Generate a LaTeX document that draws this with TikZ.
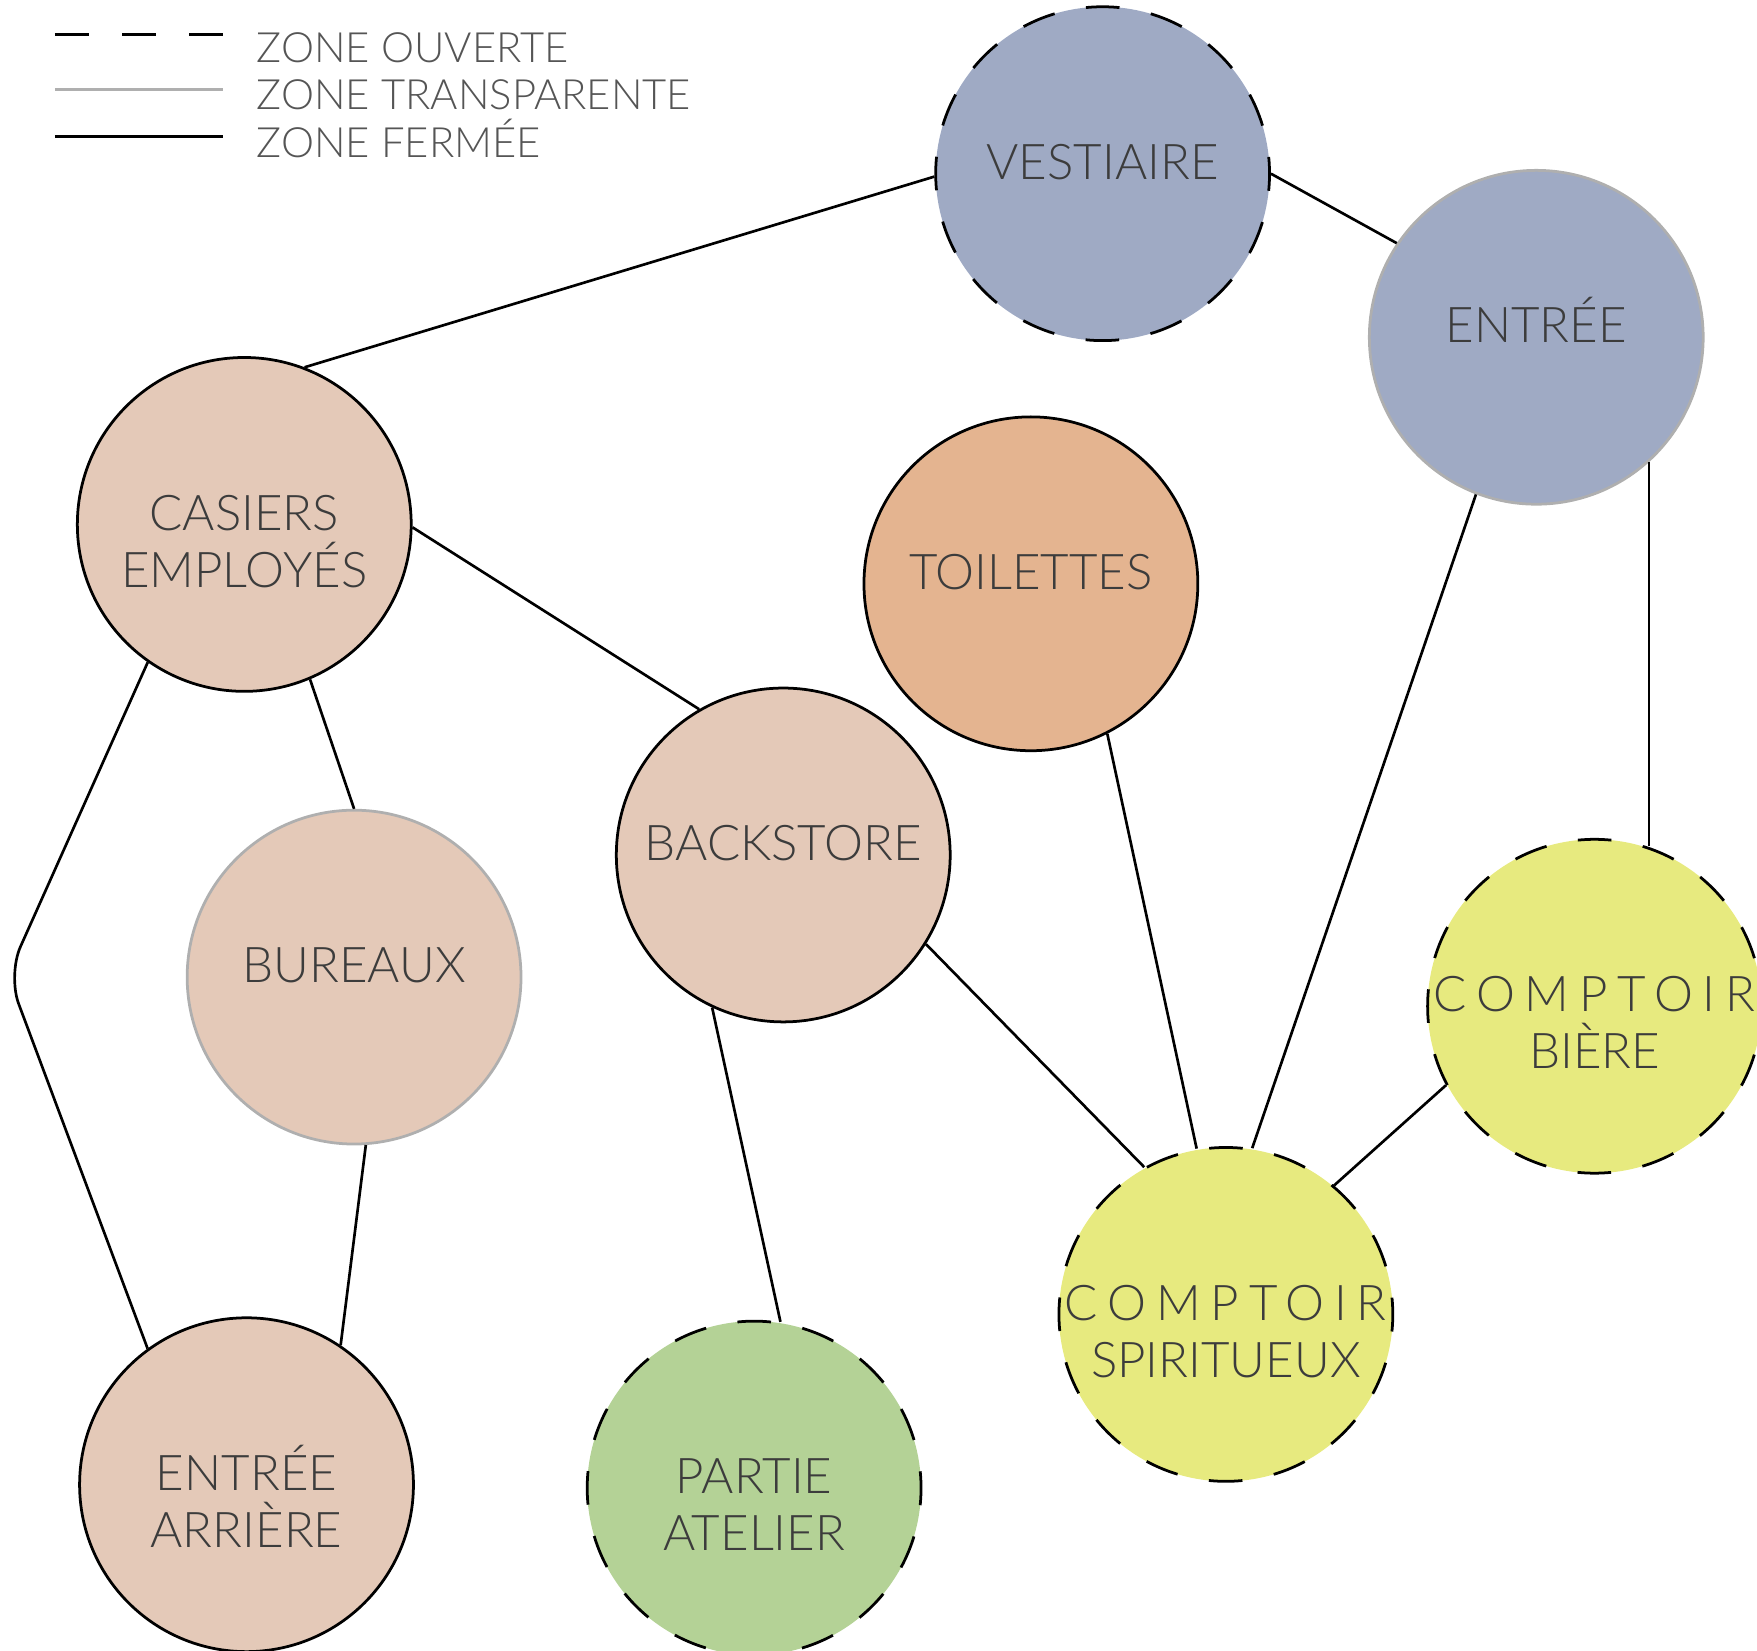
\documentclass[tikz,border=0pt]{standalone}
\usepackage{fontspec}
\setmainfont{Lato Light}
\definecolor{zbleu}{HTML}{9FAAC4}
\definecolor{zbeige}{HTML}{E4C9B8}
\definecolor{zorange}{HTML}{E4B490}
\definecolor{zjaune}{HTML}{E7EA7F}
\definecolor{zvert}{HTML}{B4D296}
\definecolor{trait}{HTML}{AFAFAF}
\definecolor{texte}{HTML}{3C3C3C}
\definecolor{legende}{HTML}{555555}
\def\espace#1{{\addfontfeatures{LetterSpace=20}#1}}

\begin{document}
\begin{tikzpicture}[x=0.02cm, y=-0.02cm,
    zone/.style={circle, minimum size=5.96cm, inner sep=0pt, line width=1.4pt},
    ouverte/.style={zone, draw=black, dash pattern=on 0.6cm off 0.57cm, dash phase=0.3cm},
    transp/.style={zone, draw=trait},
    fermee/.style={zone, draw=black},
    txt/.style={anchor=base, text width=8cm, align=center, text=texte,
        font=\fontsize{25}{29}\selectfont},
    leg/.style={anchor=base west, text=legende, inner sep=0pt,
        font=\fontsize{21.2}{25}\selectfont},
    lien/.style={line width=1.35pt}]
    \useasboundingbox (0,0) rectangle (1568,1473);

    % legende
    \coordinate (ouvA) at (49,31);  \coordinate (ouvB) at (199,31);
    \coordinate (trA) at (49,80);   \coordinate (trB) at (199,80);
    \coordinate (ferA) at (49,122); \coordinate (ferB) at (199,122);
    \draw[lien, dash pattern=on 0.6cm off 0.6cm] (ouvA) -- (ouvB);
    \draw[lien, trait] (trA) -- (trB);
    \draw[lien] (ferA) -- (ferB);
    \node[leg] (legOuv) at (229,56) {ZONE OUVERTE};
    \node[leg] (legTr) at (229,98) {ZONE TRANSPARENTE};
    \node[leg] (legFer) at (229,141) {ZONE FERMÉE};

    % zones
    \node[ouverte, fill=zbleu] (vest) at (984,155) {};
    \node[transp, fill=zbleu] (entree) at (1371,301) {};
    \node[fermee, fill=zbeige] (casiers) at (218,468) {};
    \node[fermee, fill=zorange] (toil) at (920,521) {};
    \node[fermee, fill=zbeige] (back) at (699,763) {};
    \node[transp, fill=zbeige] (bureaux) at (316,872) {};
    \node[ouverte, fill=zjaune] (biere) at (1423,898) {};
    \node[ouverte, fill=zjaune] (spirit) at (1094,1173) {};
    \node[fermee, fill=zbeige] (arriere) at (220,1325) {};
    \node[ouverte, fill=zvert] (atelier) at (673,1328) {};

    % textes
    \node[txt] (vestT) at ([yshift=-0.1cm]vest.center) {VESTIAIRE};
    \node[txt] (entreeT) at ([yshift=-0.1cm]entree.center) {ENTRÉE};
    \node[txt] (casiersT) at ([yshift=-0.1cm]casiers.center) {CASIERS\\EMPLOYÉS};
    \node[txt] (toilT) at ([yshift=-0.1cm]toil.center) {TOILETTES};
    \node[txt] (backT) at ([yshift=-0.1cm]back.center) {BACKSTORE};
    \node[txt] (bureauxT) at ([yshift=-0.1cm]bureaux.center) {BUREAUX};
    \node[txt] (biereT) at ([yshift=-0.1cm]biere.center) {\espace{COMPTOIR}\\BIÈRE};
    \node[txt] (spiritT) at ([yshift=-0.1cm]spirit.center) {\espace{COMPTOIR}\\SPIRITUEUX};
    \node[txt] (arriereT) at ([yshift=-0.1cm]arriere.center) {ENTRÉE\\ARRIÈRE};
    \node[txt] (atelierT) at ([yshift=-0.1cm]atelier.center) {PARTIE\\ATELIER};

    % liens
    \coordinate (coude) at (7,870);
    \draw[lien] (vest.181) -- (casiers.69);
    \draw[lien] (vest.0) -- (entree.146);
    \draw[lien] (casiers.359) -- (back.120);
    \draw[lien] (casiers.293) -- (bureaux.90);
    \draw[lien, rounded corners=0.55cm] (casiers.235) -- (coude) -- (arriere.126);
    \draw[lien] (bureaux.274) -- (arriere.56);
    \draw[lien] (back.245) -- (atelier.81);
    \draw[lien] (back.328) -- (spirit.119);
    \draw[lien] (toil.297) -- (spirit.100);
    \draw[lien] (entree.249) -- (spirit.81);
    \draw[lien] (entree.312) -- (entree.312 |- biere.72);
    \draw[lien] (biere.208) -- (spirit.50);
\end{tikzpicture}
\end{document}
